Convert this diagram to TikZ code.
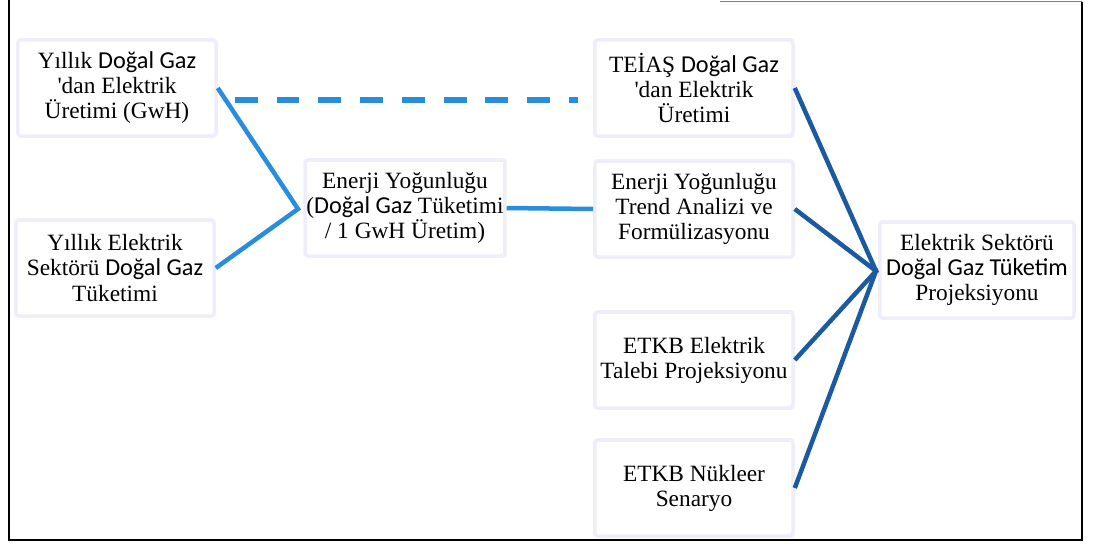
\documentclass[tikz,border=0pt]{standalone}
\usepackage{fontspec}
\setmainfont{Liberation Serif}
\newfontfamily\calibri[Scale=1.04]{Carlito}
\usetikzlibrary{positioning}

\definecolor{lightline}{RGB}{42,140,220}
\definecolor{darkline}{RGB}{28,90,160}
\definecolor{boxedge}{RGB}{238,238,249}

% the words that came out in a sans font
\newcommand{\dgaz}{{\calibri Doğal Gaz}}

\tikzset{
  box/.style={draw=boxedge, line width=2.5pt, fill=white, rounded corners=2pt,
    minimum width=4.95cm, minimum height=2.4cm, align=center, inner sep=1pt,
    font=\fontsize{16.6}{17.8}\selectfont},
  lightlink/.style={lightline, line width=3.2pt},
  darklink/.style={darkline, line width=3.2pt},
}

\begin{document}
\begin{tikzpicture}[x=0.025cm,y=-0.025cm]
  \useasboundingbox (0,0) rectangle (1096,547);

  % Frame
  \draw[gray, line width=1pt] (720,1.5) -- (1082,1.5);
  \draw[line width=1pt] (1082,1.5) -- (1082,540) -- (9,540) -- (9,0);

  % Left column
  \node[box] (uretim) at (117,88) {Yıllık \dgaz\\\textquotesingle dan Elektrik\\Üretimi (GwH)};
  \node[box] (tuketim) at (115,268) {Yıllık Elektrik\\Sektörü \dgaz\\Tüketimi};

  % Middle
  \node[box] (yogunluk) at (405,208) {Enerji Yoğunluğu\\(\dgaz{} Tüketimi\\/ 1 GwH Üretim)};

  % Right column
  \node[box] (teias) at (694,88) {TEİAŞ \dgaz\\\textquotesingle dan Elektrik\\Üretimi};
  \node[box] (trend) at (694,209) {Enerji Yoğunluğu\\Trend Analizi ve\\Formülizasyonu};
  \node[box] (talep) at (694,360) {ETKB Elektrik\\Talebi Projeksiyonu};
  \node[box] (nukleer) at (694,488) {ETKB Nükleer\\Senaryo};

  % Result
  \node[box, minimum width=4.85cm] (proj) at (977,270) {Elektrik Sektörü\\{\calibri Doğal Gaz Tüketim}\\Projeksiyonu};

  % Junctions
  \coordinate (jl) at (298,209);
  \coordinate (jr) at (876,271);

  % Light blue links
  \draw[lightlink] (uretim.east) -- (jl) -- (tuketim.east);
  \draw[lightlink] (yogunluk.east) -- (trend.west);
  \draw[lightlink, line width=4.2pt, dash pattern=on 16.3pt off 13.4pt] ([shift={(17,12)}]uretim.east) -- ([shift={(-15,12)}]teias.west);

  % Dark blue links
  \foreach \n in {teias,trend,talep,nukleer}
    \draw[darklink] (\n.east) -- (jr);
  \draw[darklink] (jr) -- (proj.west);
\end{tikzpicture}
\end{document}
